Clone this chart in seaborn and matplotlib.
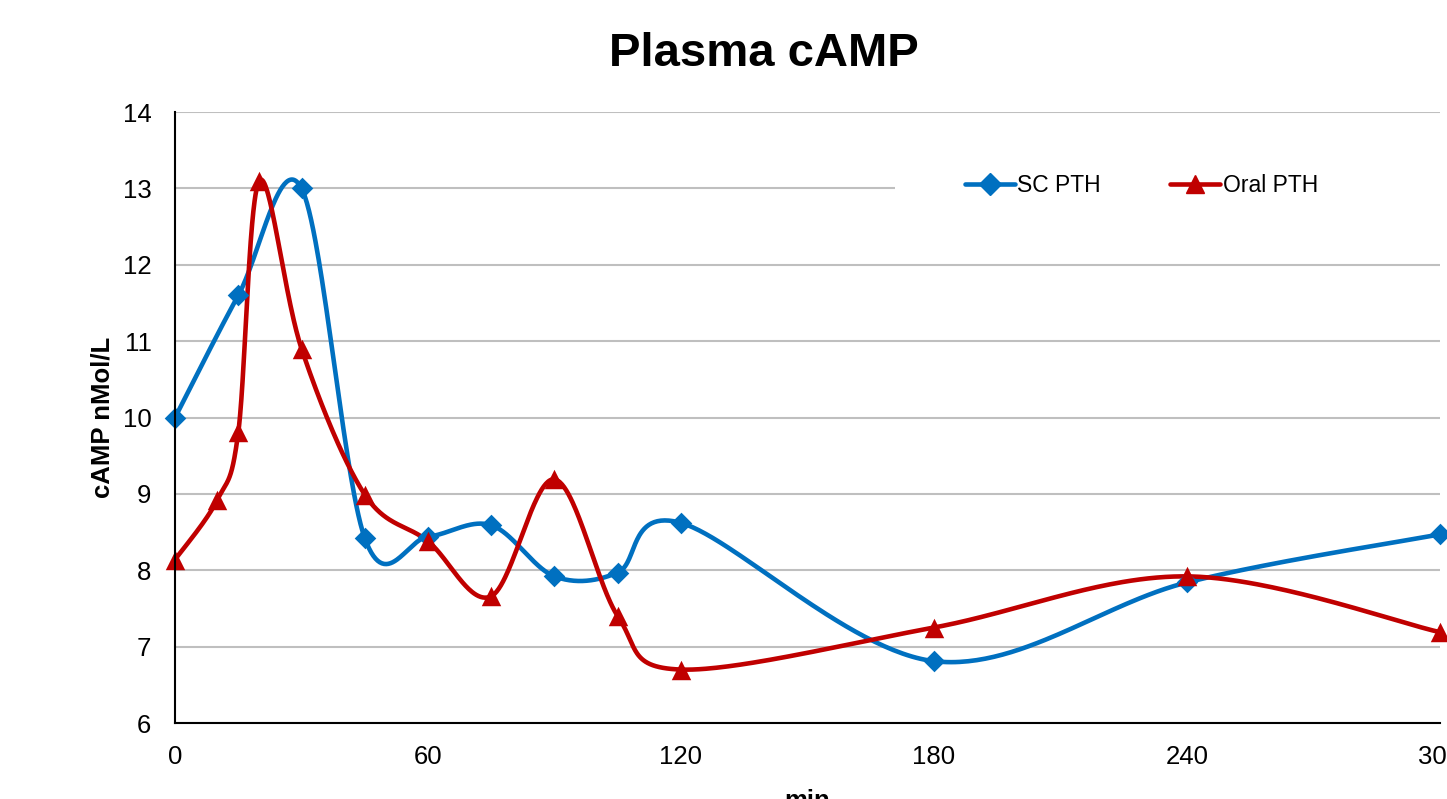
import numpy as np
import pandas as pd
import matplotlib
matplotlib.use("Agg")
import matplotlib.pyplot as plt
from matplotlib.lines import Line2D
from matplotlib.patches import Rectangle
import matplotlib.transforms as mtransforms
import seaborn as sns

# ---- data ----
sc_x = [0, 15, 30, 45, 60, 75, 90, 105, 120, 180, 240, 300]
sc_y = [10.0, 11.6, 13.0, 8.42, 8.44, 8.59, 7.92, 7.97, 8.62, 6.81, 7.84, 8.47]
oral_x = [0, 10, 15, 20, 30, 45, 60, 75, 90, 105, 120, 180, 240, 300]
oral_y = [8.14, 8.92, 9.81, 13.1, 10.9, 8.99, 8.38, 7.66, 9.19, 7.40, 6.70, 7.25, 7.92, 7.19]
series_names = ["SC PTH", "Oral PTH"]
x_ticks = [0, 60, 120, 180, 240, 300]
y_ticks = [6, 7, 8, 9, 10, 11, 12, 13, 14]

BLUE = "#0070C0"
RED = "#C00000"


def excel_smooth(xs, ys, n=60):
    """Bezier smoothing similar to Excel's smoothed line."""
    P = np.column_stack([xs, ys]).astype(float)
    out = []
    m = len(P)
    t = np.linspace(0, 1, n)[:, None]
    for i in range(m - 1):
        p0 = P[i]
        p3 = P[i + 1]
        pm = P[i - 1] if i > 0 else P[i]
        pp = P[i + 2] if i + 2 < m else P[i + 1]
        c1 = p0 + (p3 - pm) / 6.0
        c2 = p3 - (pp - p0) / 6.0
        seg = ((1 - t) ** 3) * p0 + 3 * ((1 - t) ** 2) * t * c1 + 3 * (1 - t) * t ** 2 * c2 + t ** 3 * p3
        if i > 0:
            seg = seg[1:]
        out.append(seg)
    arr = np.vstack(out)
    return arr[:, 0], arr[:, 1]


sns.set_theme(style="white")
plt.rcParams["font.family"] = ["Liberation Sans", "DejaVu Sans"]
plt.rcParams["text.color"] = "black"
plt.rcParams["axes.labelcolor"] = "black"

fig = plt.figure(figsize=(14.47, 7.99), dpi=100)
ax = fig.add_axes([0.121, 0.0951, 0.874, 0.7647])

for xs, ys, color, marker, ms, name in [
    (sc_x, sc_y, BLUE, "D", 11, series_names[0]),
    (oral_x, oral_y, RED, "^", 14, series_names[1]),
]:
    cx, cy = excel_smooth(xs, ys)
    df_curve = pd.DataFrame({"x": cx, "y": cy})
    sns.lineplot(data=df_curve, x="x", y="y", sort=False, estimator=None,
                 color=color, linewidth=3.3, ax=ax, zorder=3,
                 solid_capstyle="round")
    df_pts = pd.DataFrame({"x": xs, "y": ys})
    sns.scatterplot(data=df_pts, x="x", y="y", color=color, marker=marker,
                    s=ms ** 2, edgecolor=color, linewidth=0, ax=ax, zorder=4,
                    clip_on=False)

ax.set_xlim(0, 300)
ax.set_ylim(6, 14)
ax.set_xticks(x_ticks)
ax.set_yticks(y_ticks)
ax.tick_params(axis="both", labelsize=18.5, length=0, colors="black")
ax.tick_params(axis="y", pad=17)
ax.tick_params(axis="x", pad=16)
ax.grid(axis="y", color="#BFBFBF", linewidth=1.5)
ax.grid(axis="x", visible=False)
for side in ["top", "right"]:
    ax.spines[side].set_visible(False)
for side in ["left", "bottom"]:
    ax.spines[side].set_color("black")
    ax.spines[side].set_linewidth(1.5)
    ax.spines[side].set_zorder(5)

ax.set_xlabel("min", fontsize=18.5, fontweight="bold", labelpad=14, color="black")
ax.set_ylabel("cAMP nMol/L", fontsize=18.5, fontweight="bold", labelpad=6, color="black")
fig.text(0.528, 0.933, "Plasma cAMP", fontsize=34, fontweight="bold",
         ha="center", va="center", color="black")

# white legend background hiding part of the 13 gridline
trans = mtransforms.blended_transform_factory(ax.transAxes, ax.transData)
ax.add_patch(Rectangle((0.569, 12.75), 0.431, 0.5, transform=trans,
                       facecolor="white", edgecolor="none", zorder=2))

handles = [
    Line2D([0], [0], color=BLUE, lw=3.3, marker="D", markersize=11, solid_capstyle="round"),
    Line2D([0], [0], color=RED, lw=3.3, marker="^", markersize=13, solid_capstyle="round"),
]
leg = ax.legend(handles, series_names, loc="center", bbox_to_anchor=(0.764, 0.8805),
                ncol=2, frameon=False, fontsize=16.5, handlelength=2.2,
                handletextpad=0.1, columnspacing=3.0, borderpad=0.5)
for txt in leg.get_texts():
    txt.set_color("black")
leg.set_zorder(6)

fig.savefig("out.png", dpi=100)
